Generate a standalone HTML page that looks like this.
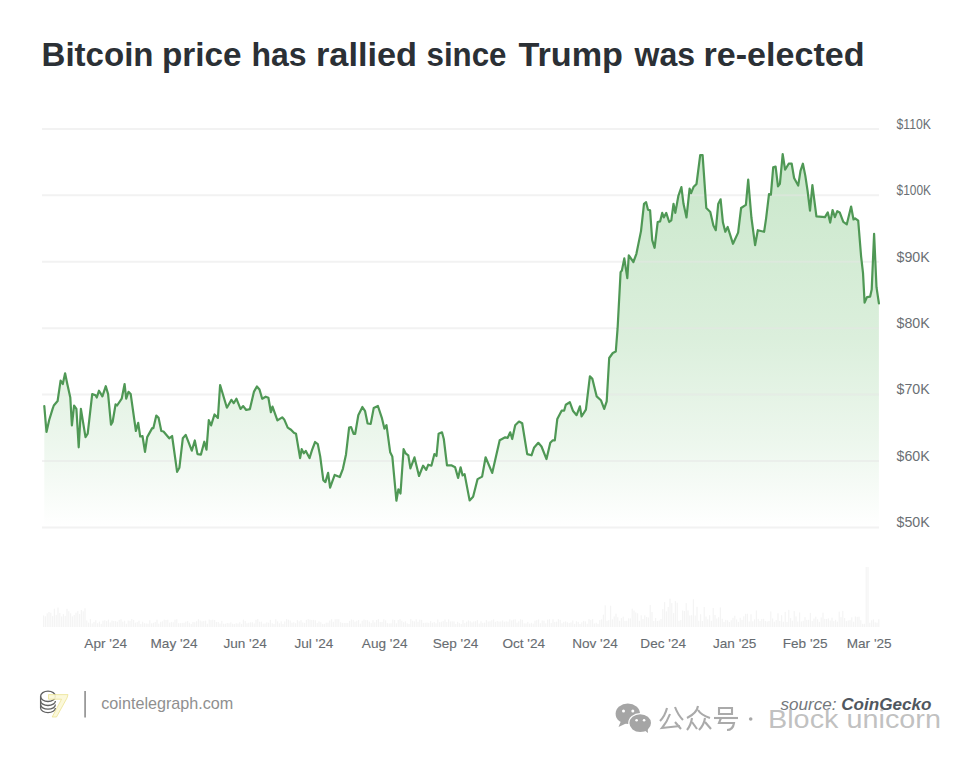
<!DOCTYPE html>
<html><head><meta charset="utf-8"><style>
html,body{margin:0;padding:0;background:#fff;width:972px;height:758px;overflow:hidden}
svg{position:absolute;left:0;top:0}
.t{font-family:"Liberation Sans",sans-serif;font-weight:bold;fill:#2b3035}
.yl{font-family:"Liberation Sans",sans-serif;font-size:14px;fill:#6a6f74}
.xl{font-family:"Liberation Sans",sans-serif;font-size:13.6px;fill:#676c71;stroke:#676c71;stroke-width:0.12px}
.ft{font-family:"Liberation Sans",sans-serif}
</style></head><body>
<svg width="972" height="758" viewBox="0 0 972 758">
<defs>
<linearGradient id="g" x1="0" y1="150" x2="0" y2="527" gradientUnits="userSpaceOnUse">
<stop offset="0" stop-color="#4caf50" stop-opacity="0.30"/>
<stop offset="0.5" stop-color="#4caf50" stop-opacity="0.20"/>
<stop offset="0.78" stop-color="#4caf50" stop-opacity="0.10"/>
<stop offset="1" stop-color="#4caf50" stop-opacity="0.0"/>
</linearGradient>
<clipPath id="yc"><rect x="880" y="100" width="51.5" height="440"/></clipPath>
</defs>
<text x="41.5" y="65.6" class="t" font-size="33" textLength="112.06" lengthAdjust="spacingAndGlyphs">Bitcoin</text><text x="162.0" y="65.6" class="t" font-size="33" textLength="79.57" lengthAdjust="spacingAndGlyphs">price</text><text x="251.5" y="65.6" class="t" font-size="33" textLength="55.09" lengthAdjust="spacingAndGlyphs">has</text><text x="316.0" y="65.6" class="t" font-size="33" textLength="101.07" lengthAdjust="spacingAndGlyphs">rallied</text><text x="426.5" y="65.6" class="t" font-size="33" textLength="80.03" lengthAdjust="spacingAndGlyphs">since</text><text x="518.5" y="65.6" class="t" font-size="33" textLength="104.5" lengthAdjust="spacingAndGlyphs">Trump</text><text x="634.5" y="65.6" class="t" font-size="33" textLength="60.51" lengthAdjust="spacingAndGlyphs">was</text><text x="703.5" y="65.6" class="t" font-size="33" textLength="161.04" lengthAdjust="spacingAndGlyphs">re-elected</text>
<path d="M44.3,527 L44.3,406.1 L46.5,432.0 L49.2,420.0 L52.6,408.9 L53.8,405.5 L57.6,401.0 L60.6,380.6 L62.8,384.0 L65.1,373.3 L67.3,384.0 L70.3,397.5 L71.9,425.4 L74.1,405.5 L76.4,408.9 L78.7,447.3 L80.9,408.9 L85.5,437.1 L87.7,433.7 L92.2,394.1 L95.6,395.3 L96.8,397.5 L99.0,390.7 L102.4,396.4 L105.8,386.2 L108.1,394.1 L111.0,424.7 L112.6,422.0 L115.6,404.3 L117.1,405.5 L121.7,398.7 L124.6,384.0 L126.2,398.7 L128.5,391.9 L130.7,394.1 L135.9,431.0 L138.2,422.9 L140.2,436.5 L142.5,436.0 L145.0,451.9 L147.2,437.1 L152.2,428.1 L153.4,428.1 L156.3,415.6 L158.6,417.9 L161.3,431.0 L163.5,431.5 L169.2,438.3 L172.1,436.0 L177.1,471.8 L179.4,467.7 L182.8,438.3 L185.7,434.9 L191.8,450.7 L194.8,440.5 L197.5,454.1 L200.9,454.6 L204.3,441.7 L206.5,449.6 L208.8,420.2 L211.1,425.4 L214.5,414.5 L217.9,417.9 L220.1,385.0 L226.9,407.7 L231.4,399.8 L233.7,403.2 L236.4,398.7 L240.5,408.9 L243.2,406.1 L246.2,410.0 L249.9,409.1 L254.0,391.6 L256.9,386.5 L259.5,389.5 L262.2,398.8 L265.7,396.7 L268.4,397.8 L270.9,412.2 L272.5,406.6 L277.4,420.4 L282.2,417.3 L284.2,419.4 L287.7,427.6 L291.0,429.7 L293.9,432.8 L296.0,433.8 L300.1,458.1 L301.7,449.2 L303.8,453.3 L305.8,450.9 L309.5,458.1 L312.0,450.2 L315.1,442.0 L317.8,444.1 L320.2,456.4 L323.3,480.1 L325.4,482.1 L328.1,472.9 L330.1,487.7 L334.7,474.9 L339.8,477.0 L342.9,468.8 L346.0,454.4 L349.1,427.6 L351.1,427.2 L353.6,433.8 L355.2,433.8 L358.3,415.3 L362.4,407.0 L365.1,411.2 L367.6,423.5 L370.7,423.9 L373.7,408.1 L377.9,406.0 L382.0,418.4 L384.4,428.6 L386.5,425.1 L390.2,452.3 L392.3,456.4 L396.4,500.7 L398.4,489.3 L400.5,493.5 L403.6,449.2 L405.6,453.3 L408.3,455.4 L410.4,468.4 L414.5,457.4 L419.0,476.0 L423.1,465.7 L426.2,469.8 L428.3,464.7 L431.4,465.7 L434.4,454.0 L436.5,456.0 L438.6,433.8 L442.0,432.3 L443.8,439.0 L447.0,465.3 L451.3,465.3 L455.1,467.3 L458.1,477.9 L460.6,467.3 L462.6,475.4 L464.6,474.1 L469.6,500.4 L473.1,496.7 L477.6,479.1 L482.1,476.6 L485.6,457.3 L492.2,472.9 L499.7,440.3 L505.2,437.3 L507.7,437.8 L510.2,432.3 L512.2,439.0 L515.2,425.2 L519.0,421.5 L522.2,423.2 L527.2,454.1 L531.5,455.3 L534.0,447.8 L538.3,442.8 L541.5,446.5 L546.5,459.1 L550.3,442.8 L552.8,440.3 L554.8,440.3 L557.3,419.0 L561.6,410.7 L564.1,410.7 L565.8,404.7 L569.8,402.2 L572.9,410.7 L576.6,415.2 L579.9,406.4 L581.6,416.5 L585.9,409.7 L589.9,376.4 L592.4,378.9 L596.7,396.4 L600.9,400.2 L604.2,408.9 L606.7,401.4 L609.2,358.0 L612.8,353.0 L615.8,351.5 L617.6,328.2 L620.6,272.1 L621.9,270.5 L624.3,258.4 L627.3,278.1 L628.8,255.4 L633.4,262.0 L636.4,253.8 L641.0,231.1 L644.0,203.8 L646.1,202.2 L648.0,209.8 L650.1,210.4 L652.2,240.2 L654.6,247.8 L657.7,222.0 L660.1,221.4 L662.2,212.9 L663.8,217.4 L666.2,212.9 L669.2,222.0 L671.3,220.4 L673.5,203.8 L675.3,212.9 L678.3,196.2 L681.4,187.1 L683.5,203.8 L686.5,217.4 L689.6,188.6 L691.1,193.1 L693.5,187.1 L696.5,184.0 L700.2,155.2 L702.6,155.2 L706.3,208.0 L710.3,212.0 L713.4,225.4 L715.8,230.2 L718.2,204.1 L720.6,199.3 L722.9,222.3 L725.3,231.8 L727.7,227.0 L733.0,243.8 L738.1,232.6 L741.1,208.0 L745.9,204.9 L748.2,179.5 L751.4,217.5 L755.1,245.2 L757.8,230.2 L764.1,231.8 L766.1,218.3 L769.0,194.1 L770.9,194.6 L773.2,167.3 L775.6,166.6 L778.0,186.3 L779.9,183.9 L782.7,154.2 L785.1,169.7 L788.7,163.7 L791.7,163.7 L794.1,178.0 L798.2,185.6 L800.5,170.9 L802.9,163.7 L805.3,175.6 L807.6,191.0 L810.0,210.7 L812.4,185.1 L816.4,216.4 L825.0,217.1 L827.8,212.4 L830.2,222.6 L832.6,210.0 L834.9,217.1 L837.3,211.2 L839.7,212.4 L843.3,221.9 L846.8,224.3 L851.1,206.5 L853.5,219.5 L855.1,218.3 L858.2,220.7 L861.1,256.3 L863.0,272.9 L864.6,302.6 L867.0,297.1 L870.1,296.7 L871.7,289.5 L874.1,233.8 L876.5,287.2 L878.9,303.3 L878.9,527 Z" fill="url(#g)"/>
<line x1="42" y1="128.9" x2="879" y2="128.9" stroke="#e6e6e6" stroke-opacity="0.5" stroke-width="2"/><line x1="42" y1="195.3" x2="879" y2="195.3" stroke="#e6e6e6" stroke-opacity="0.5" stroke-width="2"/><line x1="42" y1="261.7" x2="879" y2="261.7" stroke="#e6e6e6" stroke-opacity="0.5" stroke-width="2"/><line x1="42" y1="328.2" x2="879" y2="328.2" stroke="#e6e6e6" stroke-opacity="0.5" stroke-width="2"/><line x1="42" y1="394.6" x2="879" y2="394.6" stroke="#e6e6e6" stroke-opacity="0.5" stroke-width="2"/><line x1="42" y1="461.0" x2="879" y2="461.0" stroke="#e6e6e6" stroke-opacity="0.5" stroke-width="2"/><line x1="42" y1="527.4" x2="879" y2="527.4" stroke="#e6e6e6" stroke-opacity="0.5" stroke-width="2"/>
<polyline points="44.3,406.1 46.5,432.0 49.2,420.0 52.6,408.9 53.8,405.5 57.6,401.0 60.6,380.6 62.8,384.0 65.1,373.3 67.3,384.0 70.3,397.5 71.9,425.4 74.1,405.5 76.4,408.9 78.7,447.3 80.9,408.9 85.5,437.1 87.7,433.7 92.2,394.1 95.6,395.3 96.8,397.5 99.0,390.7 102.4,396.4 105.8,386.2 108.1,394.1 111.0,424.7 112.6,422.0 115.6,404.3 117.1,405.5 121.7,398.7 124.6,384.0 126.2,398.7 128.5,391.9 130.7,394.1 135.9,431.0 138.2,422.9 140.2,436.5 142.5,436.0 145.0,451.9 147.2,437.1 152.2,428.1 153.4,428.1 156.3,415.6 158.6,417.9 161.3,431.0 163.5,431.5 169.2,438.3 172.1,436.0 177.1,471.8 179.4,467.7 182.8,438.3 185.7,434.9 191.8,450.7 194.8,440.5 197.5,454.1 200.9,454.6 204.3,441.7 206.5,449.6 208.8,420.2 211.1,425.4 214.5,414.5 217.9,417.9 220.1,385.0 226.9,407.7 231.4,399.8 233.7,403.2 236.4,398.7 240.5,408.9 243.2,406.1 246.2,410.0 249.9,409.1 254.0,391.6 256.9,386.5 259.5,389.5 262.2,398.8 265.7,396.7 268.4,397.8 270.9,412.2 272.5,406.6 277.4,420.4 282.2,417.3 284.2,419.4 287.7,427.6 291.0,429.7 293.9,432.8 296.0,433.8 300.1,458.1 301.7,449.2 303.8,453.3 305.8,450.9 309.5,458.1 312.0,450.2 315.1,442.0 317.8,444.1 320.2,456.4 323.3,480.1 325.4,482.1 328.1,472.9 330.1,487.7 334.7,474.9 339.8,477.0 342.9,468.8 346.0,454.4 349.1,427.6 351.1,427.2 353.6,433.8 355.2,433.8 358.3,415.3 362.4,407.0 365.1,411.2 367.6,423.5 370.7,423.9 373.7,408.1 377.9,406.0 382.0,418.4 384.4,428.6 386.5,425.1 390.2,452.3 392.3,456.4 396.4,500.7 398.4,489.3 400.5,493.5 403.6,449.2 405.6,453.3 408.3,455.4 410.4,468.4 414.5,457.4 419.0,476.0 423.1,465.7 426.2,469.8 428.3,464.7 431.4,465.7 434.4,454.0 436.5,456.0 438.6,433.8 442.0,432.3 443.8,439.0 447.0,465.3 451.3,465.3 455.1,467.3 458.1,477.9 460.6,467.3 462.6,475.4 464.6,474.1 469.6,500.4 473.1,496.7 477.6,479.1 482.1,476.6 485.6,457.3 492.2,472.9 499.7,440.3 505.2,437.3 507.7,437.8 510.2,432.3 512.2,439.0 515.2,425.2 519.0,421.5 522.2,423.2 527.2,454.1 531.5,455.3 534.0,447.8 538.3,442.8 541.5,446.5 546.5,459.1 550.3,442.8 552.8,440.3 554.8,440.3 557.3,419.0 561.6,410.7 564.1,410.7 565.8,404.7 569.8,402.2 572.9,410.7 576.6,415.2 579.9,406.4 581.6,416.5 585.9,409.7 589.9,376.4 592.4,378.9 596.7,396.4 600.9,400.2 604.2,408.9 606.7,401.4 609.2,358.0 612.8,353.0 615.8,351.5 617.6,328.2 620.6,272.1 621.9,270.5 624.3,258.4 627.3,278.1 628.8,255.4 633.4,262.0 636.4,253.8 641.0,231.1 644.0,203.8 646.1,202.2 648.0,209.8 650.1,210.4 652.2,240.2 654.6,247.8 657.7,222.0 660.1,221.4 662.2,212.9 663.8,217.4 666.2,212.9 669.2,222.0 671.3,220.4 673.5,203.8 675.3,212.9 678.3,196.2 681.4,187.1 683.5,203.8 686.5,217.4 689.6,188.6 691.1,193.1 693.5,187.1 696.5,184.0 700.2,155.2 702.6,155.2 706.3,208.0 710.3,212.0 713.4,225.4 715.8,230.2 718.2,204.1 720.6,199.3 722.9,222.3 725.3,231.8 727.7,227.0 733.0,243.8 738.1,232.6 741.1,208.0 745.9,204.9 748.2,179.5 751.4,217.5 755.1,245.2 757.8,230.2 764.1,231.8 766.1,218.3 769.0,194.1 770.9,194.6 773.2,167.3 775.6,166.6 778.0,186.3 779.9,183.9 782.7,154.2 785.1,169.7 788.7,163.7 791.7,163.7 794.1,178.0 798.2,185.6 800.5,170.9 802.9,163.7 805.3,175.6 807.6,191.0 810.0,210.7 812.4,185.1 816.4,216.4 825.0,217.1 827.8,212.4 830.2,222.6 832.6,210.0 834.9,217.1 837.3,211.2 839.7,212.4 843.3,221.9 846.8,224.3 851.1,206.5 853.5,219.5 855.1,218.3 858.2,220.7 861.1,256.3 863.0,272.9 864.6,302.6 867.0,297.1 870.1,296.7 871.7,289.5 874.1,233.8 876.5,287.2 878.9,303.3" fill="none" stroke="#4f9855" stroke-width="2.2" stroke-linejoin="round" stroke-linecap="round"/>
<g clip-path="url(#yc)"><text x="896.5" y="128.7" class="yl" textLength="34.5" lengthAdjust="spacingAndGlyphs">$110K</text><text x="896.5" y="195.1" class="yl" textLength="34.5" lengthAdjust="spacingAndGlyphs">$100K</text><text x="896.5" y="261.5" class="yl" textLength="33.2" lengthAdjust="spacingAndGlyphs">$90K</text><text x="896.5" y="328.0" class="yl" textLength="33.2" lengthAdjust="spacingAndGlyphs">$80K</text><text x="896.5" y="394.4" class="yl" textLength="33.2" lengthAdjust="spacingAndGlyphs">$70K</text><text x="896.5" y="460.8" class="yl" textLength="33.2" lengthAdjust="spacingAndGlyphs">$60K</text><text x="896.5" y="527.2" class="yl" textLength="33.2" lengthAdjust="spacingAndGlyphs">$50K</text></g>
<g fill="#f4f4f4"><rect x="43.0" y="615.5" width="1.2" height="11.5"/><rect x="44.8" y="616.3" width="1.2" height="10.7"/><rect x="46.6" y="613.3" width="1.2" height="13.7"/><rect x="48.4" y="611.9" width="1.2" height="15.1"/><rect x="50.2" y="612.7" width="1.2" height="14.3"/><rect x="52.0" y="616.1" width="1.2" height="10.9"/><rect x="53.8" y="608.7" width="1.2" height="18.3"/><rect x="55.6" y="614.8" width="1.2" height="12.2"/><rect x="57.4" y="607.5" width="1.2" height="19.5"/><rect x="59.2" y="613.0" width="1.2" height="14.0"/><rect x="61.0" y="616.5" width="1.2" height="10.5"/><rect x="62.8" y="614.1" width="1.2" height="12.9"/><rect x="64.6" y="615.8" width="1.2" height="11.2"/><rect x="66.4" y="608.8" width="1.2" height="18.2"/><rect x="68.2" y="611.2" width="1.2" height="15.8"/><rect x="70.0" y="613.3" width="1.2" height="13.7"/><rect x="71.8" y="616.4" width="1.2" height="10.6"/><rect x="73.6" y="614.9" width="1.2" height="12.1"/><rect x="75.4" y="612.7" width="1.2" height="14.3"/><rect x="77.2" y="611.1" width="1.2" height="15.9"/><rect x="79.0" y="614.0" width="1.2" height="13.0"/><rect x="80.8" y="610.0" width="1.2" height="17.0"/><rect x="82.6" y="611.3" width="1.2" height="15.7"/><rect x="84.4" y="608.2" width="1.2" height="18.8"/><rect x="86.2" y="620.4" width="1.2" height="6.6"/><rect x="88.0" y="622.6" width="1.2" height="4.4"/><rect x="89.8" y="619.1" width="1.2" height="7.9"/><rect x="91.6" y="623.4" width="1.2" height="3.6"/><rect x="93.4" y="621.9" width="1.2" height="5.1"/><rect x="95.2" y="620.2" width="1.2" height="6.8"/><rect x="97.0" y="623.2" width="1.2" height="3.8"/><rect x="98.8" y="621.6" width="1.2" height="5.4"/><rect x="100.6" y="623.8" width="1.2" height="3.2"/><rect x="102.4" y="620.7" width="1.2" height="6.3"/><rect x="104.2" y="620.2" width="1.2" height="6.8"/><rect x="106.0" y="621.1" width="1.2" height="5.9"/><rect x="107.8" y="619.6" width="1.2" height="7.4"/><rect x="109.6" y="622.4" width="1.2" height="4.6"/><rect x="111.4" y="620.5" width="1.2" height="6.5"/><rect x="113.2" y="621.0" width="1.2" height="6.0"/><rect x="115.0" y="621.1" width="1.2" height="5.9"/><rect x="116.8" y="621.7" width="1.2" height="5.3"/><rect x="118.6" y="619.8" width="1.2" height="7.2"/><rect x="120.4" y="619.3" width="1.2" height="7.7"/><rect x="122.2" y="621.6" width="1.2" height="5.4"/><rect x="124.0" y="620.7" width="1.2" height="6.3"/><rect x="125.8" y="623.7" width="1.2" height="3.3"/><rect x="127.6" y="620.5" width="1.2" height="6.5"/><rect x="129.4" y="620.8" width="1.2" height="6.2"/><rect x="131.2" y="619.0" width="1.2" height="8.0"/><rect x="133.0" y="619.9" width="1.2" height="7.1"/><rect x="134.8" y="622.6" width="1.2" height="4.4"/><rect x="136.6" y="622.1" width="1.2" height="4.9"/><rect x="138.4" y="620.7" width="1.2" height="6.3"/><rect x="140.2" y="623.9" width="1.2" height="3.1"/><rect x="142.0" y="621.7" width="1.2" height="5.3"/><rect x="143.8" y="623.2" width="1.2" height="3.8"/><rect x="145.6" y="623.4" width="1.2" height="3.6"/><rect x="147.4" y="623.7" width="1.2" height="3.3"/><rect x="149.2" y="620.2" width="1.2" height="6.8"/><rect x="151.0" y="623.4" width="1.2" height="3.6"/><rect x="152.8" y="622.8" width="1.2" height="4.2"/><rect x="154.6" y="622.0" width="1.2" height="5.0"/><rect x="156.4" y="619.6" width="1.2" height="7.4"/><rect x="158.2" y="623.6" width="1.2" height="3.4"/><rect x="160.0" y="621.8" width="1.2" height="5.2"/><rect x="161.8" y="621.3" width="1.2" height="5.7"/><rect x="163.6" y="619.6" width="1.2" height="7.4"/><rect x="165.4" y="619.9" width="1.2" height="7.1"/><rect x="167.2" y="619.7" width="1.2" height="7.3"/><rect x="169.0" y="622.6" width="1.2" height="4.4"/><rect x="170.8" y="621.9" width="1.2" height="5.1"/><rect x="172.6" y="622.2" width="1.2" height="4.8"/><rect x="174.4" y="619.6" width="1.2" height="7.4"/><rect x="176.2" y="619.2" width="1.2" height="7.8"/><rect x="178.0" y="623.2" width="1.2" height="3.8"/><rect x="179.8" y="623.1" width="1.2" height="3.9"/><rect x="181.6" y="622.8" width="1.2" height="4.2"/><rect x="183.4" y="622.8" width="1.2" height="4.2"/><rect x="185.2" y="621.6" width="1.2" height="5.4"/><rect x="187.0" y="621.1" width="1.2" height="5.9"/><rect x="188.8" y="622.7" width="1.2" height="4.3"/><rect x="190.6" y="624.0" width="1.2" height="3.0"/><rect x="192.4" y="621.9" width="1.2" height="5.1"/><rect x="194.2" y="622.2" width="1.2" height="4.8"/><rect x="196.0" y="621.2" width="1.2" height="5.8"/><rect x="197.8" y="619.2" width="1.2" height="7.8"/><rect x="199.6" y="620.5" width="1.2" height="6.5"/><rect x="201.4" y="621.4" width="1.2" height="5.6"/><rect x="203.2" y="620.9" width="1.2" height="6.1"/><rect x="205.0" y="620.6" width="1.2" height="6.4"/><rect x="206.8" y="623.7" width="1.2" height="3.3"/><rect x="208.6" y="619.5" width="1.2" height="7.5"/><rect x="210.4" y="620.1" width="1.2" height="6.9"/><rect x="212.2" y="619.6" width="1.2" height="7.4"/><rect x="214.0" y="620.0" width="1.2" height="7.0"/><rect x="215.8" y="622.0" width="1.2" height="5.0"/><rect x="217.6" y="622.0" width="1.2" height="5.0"/><rect x="219.4" y="623.5" width="1.2" height="3.5"/><rect x="221.2" y="620.8" width="1.2" height="6.2"/><rect x="223.0" y="623.7" width="1.2" height="3.3"/><rect x="224.8" y="623.7" width="1.2" height="3.3"/><rect x="226.6" y="623.0" width="1.2" height="4.0"/><rect x="228.4" y="623.2" width="1.2" height="3.8"/><rect x="230.2" y="622.3" width="1.2" height="4.7"/><rect x="232.0" y="623.7" width="1.2" height="3.3"/><rect x="233.8" y="624.0" width="1.2" height="3.0"/><rect x="235.6" y="623.2" width="1.2" height="3.8"/><rect x="237.4" y="623.5" width="1.2" height="3.5"/><rect x="239.2" y="622.2" width="1.2" height="4.8"/><rect x="241.0" y="623.9" width="1.2" height="3.1"/><rect x="242.8" y="619.6" width="1.2" height="7.4"/><rect x="244.6" y="620.9" width="1.2" height="6.1"/><rect x="246.4" y="623.3" width="1.2" height="3.7"/><rect x="248.2" y="622.7" width="1.2" height="4.3"/><rect x="250.0" y="622.3" width="1.2" height="4.7"/><rect x="251.8" y="622.2" width="1.2" height="4.8"/><rect x="253.6" y="623.4" width="1.2" height="3.6"/><rect x="255.4" y="619.8" width="1.2" height="7.2"/><rect x="257.2" y="619.0" width="1.2" height="8.0"/><rect x="259.0" y="621.7" width="1.2" height="5.3"/><rect x="260.8" y="621.6" width="1.2" height="5.4"/><rect x="262.6" y="623.6" width="1.2" height="3.4"/><rect x="264.4" y="623.5" width="1.2" height="3.5"/><rect x="266.2" y="622.3" width="1.2" height="4.7"/><rect x="268.0" y="622.7" width="1.2" height="4.3"/><rect x="269.8" y="619.9" width="1.2" height="7.1"/><rect x="271.6" y="623.2" width="1.2" height="3.8"/><rect x="273.4" y="623.9" width="1.2" height="3.1"/><rect x="275.2" y="619.2" width="1.2" height="7.8"/><rect x="277.0" y="621.4" width="1.2" height="5.6"/><rect x="278.8" y="623.3" width="1.2" height="3.7"/><rect x="280.6" y="621.3" width="1.2" height="5.7"/><rect x="282.4" y="623.9" width="1.2" height="3.1"/><rect x="284.2" y="621.4" width="1.2" height="5.6"/><rect x="286.0" y="619.1" width="1.2" height="7.9"/><rect x="287.8" y="619.7" width="1.2" height="7.3"/><rect x="289.6" y="620.5" width="1.2" height="6.5"/><rect x="291.4" y="622.7" width="1.2" height="4.3"/><rect x="293.2" y="622.2" width="1.2" height="4.8"/><rect x="295.0" y="623.2" width="1.2" height="3.8"/><rect x="296.8" y="620.1" width="1.2" height="6.9"/><rect x="298.6" y="621.3" width="1.2" height="5.7"/><rect x="300.4" y="620.1" width="1.2" height="6.9"/><rect x="302.2" y="622.4" width="1.2" height="4.6"/><rect x="304.0" y="622.9" width="1.2" height="4.1"/><rect x="305.8" y="619.9" width="1.2" height="7.1"/><rect x="307.6" y="619.1" width="1.2" height="7.9"/><rect x="309.4" y="619.7" width="1.2" height="7.3"/><rect x="311.2" y="620.0" width="1.2" height="7.0"/><rect x="313.0" y="619.9" width="1.2" height="7.1"/><rect x="314.8" y="620.3" width="1.2" height="6.7"/><rect x="316.6" y="622.9" width="1.2" height="4.1"/><rect x="318.4" y="621.4" width="1.2" height="5.6"/><rect x="320.2" y="622.2" width="1.2" height="4.8"/><rect x="322.0" y="623.9" width="1.2" height="3.1"/><rect x="323.8" y="623.9" width="1.2" height="3.1"/><rect x="325.6" y="622.6" width="1.2" height="4.4"/><rect x="327.4" y="622.7" width="1.2" height="4.3"/><rect x="329.2" y="620.5" width="1.2" height="6.5"/><rect x="331.0" y="619.2" width="1.2" height="7.8"/><rect x="332.8" y="621.8" width="1.2" height="5.2"/><rect x="334.6" y="619.3" width="1.2" height="7.7"/><rect x="336.4" y="619.1" width="1.2" height="7.9"/><rect x="338.2" y="619.2" width="1.2" height="7.8"/><rect x="340.0" y="622.2" width="1.2" height="4.8"/><rect x="341.8" y="622.9" width="1.2" height="4.1"/><rect x="343.6" y="622.9" width="1.2" height="4.1"/><rect x="345.4" y="623.0" width="1.2" height="4.0"/><rect x="347.2" y="623.0" width="1.2" height="4.0"/><rect x="349.0" y="620.9" width="1.2" height="6.1"/><rect x="350.8" y="619.5" width="1.2" height="7.5"/><rect x="352.6" y="619.8" width="1.2" height="7.2"/><rect x="354.4" y="621.6" width="1.2" height="5.4"/><rect x="356.2" y="620.7" width="1.2" height="6.3"/><rect x="358.0" y="620.0" width="1.2" height="7.0"/><rect x="359.8" y="623.6" width="1.2" height="3.4"/><rect x="361.6" y="620.7" width="1.2" height="6.3"/><rect x="363.4" y="619.5" width="1.2" height="7.5"/><rect x="365.2" y="620.1" width="1.2" height="6.9"/><rect x="367.0" y="620.2" width="1.2" height="6.8"/><rect x="368.8" y="621.6" width="1.2" height="5.4"/><rect x="370.6" y="623.1" width="1.2" height="3.9"/><rect x="372.4" y="620.1" width="1.2" height="6.9"/><rect x="374.2" y="622.3" width="1.2" height="4.7"/><rect x="376.0" y="620.0" width="1.2" height="7.0"/><rect x="377.8" y="619.1" width="1.2" height="7.9"/><rect x="379.6" y="622.0" width="1.2" height="5.0"/><rect x="381.4" y="622.0" width="1.2" height="5.0"/><rect x="383.2" y="619.3" width="1.2" height="7.7"/><rect x="385.0" y="620.4" width="1.2" height="6.6"/><rect x="386.8" y="623.1" width="1.2" height="3.9"/><rect x="388.6" y="623.4" width="1.2" height="3.6"/><rect x="390.4" y="623.2" width="1.2" height="3.8"/><rect x="392.2" y="619.5" width="1.2" height="7.5"/><rect x="394.0" y="620.0" width="1.2" height="7.0"/><rect x="395.8" y="623.3" width="1.2" height="3.7"/><rect x="397.6" y="619.9" width="1.2" height="7.1"/><rect x="399.4" y="619.1" width="1.2" height="7.9"/><rect x="401.2" y="620.7" width="1.2" height="6.3"/><rect x="403.0" y="622.2" width="1.2" height="4.8"/><rect x="404.8" y="621.3" width="1.2" height="5.7"/><rect x="406.6" y="623.3" width="1.2" height="3.7"/><rect x="408.4" y="623.9" width="1.2" height="3.1"/><rect x="410.2" y="619.1" width="1.2" height="7.9"/><rect x="412.0" y="620.8" width="1.2" height="6.2"/><rect x="413.8" y="621.4" width="1.2" height="5.6"/><rect x="415.6" y="619.3" width="1.2" height="7.7"/><rect x="417.4" y="621.8" width="1.2" height="5.2"/><rect x="419.2" y="619.6" width="1.2" height="7.4"/><rect x="421.0" y="619.9" width="1.2" height="7.1"/><rect x="422.8" y="622.9" width="1.2" height="4.1"/><rect x="424.6" y="622.7" width="1.2" height="4.3"/><rect x="426.4" y="622.5" width="1.2" height="4.5"/><rect x="428.2" y="622.8" width="1.2" height="4.2"/><rect x="430.0" y="621.1" width="1.2" height="5.9"/><rect x="431.8" y="622.7" width="1.2" height="4.3"/><rect x="433.6" y="621.9" width="1.2" height="5.1"/><rect x="435.4" y="623.3" width="1.2" height="3.7"/><rect x="437.2" y="619.4" width="1.2" height="7.6"/><rect x="439.0" y="622.2" width="1.2" height="4.8"/><rect x="440.8" y="621.7" width="1.2" height="5.3"/><rect x="442.6" y="621.1" width="1.2" height="5.9"/><rect x="444.4" y="619.5" width="1.2" height="7.5"/><rect x="446.2" y="621.9" width="1.2" height="5.1"/><rect x="448.0" y="619.4" width="1.2" height="7.6"/><rect x="449.8" y="621.5" width="1.2" height="5.5"/><rect x="451.6" y="621.3" width="1.2" height="5.7"/><rect x="453.4" y="621.4" width="1.2" height="5.6"/><rect x="455.2" y="623.9" width="1.2" height="3.1"/><rect x="457.0" y="621.8" width="1.2" height="5.2"/><rect x="458.8" y="623.1" width="1.2" height="3.9"/><rect x="460.6" y="624.0" width="1.2" height="3.0"/><rect x="462.4" y="620.0" width="1.2" height="7.0"/><rect x="464.2" y="623.1" width="1.2" height="3.9"/><rect x="466.0" y="621.6" width="1.2" height="5.4"/><rect x="467.8" y="620.4" width="1.2" height="6.6"/><rect x="469.6" y="621.2" width="1.2" height="5.8"/><rect x="471.4" y="622.4" width="1.2" height="4.6"/><rect x="473.2" y="621.4" width="1.2" height="5.6"/><rect x="475.0" y="621.2" width="1.2" height="5.8"/><rect x="476.8" y="620.1" width="1.2" height="6.9"/><rect x="478.6" y="623.5" width="1.2" height="3.5"/><rect x="480.4" y="621.2" width="1.2" height="5.8"/><rect x="482.2" y="622.8" width="1.2" height="4.2"/><rect x="484.0" y="622.6" width="1.2" height="4.4"/><rect x="485.8" y="620.1" width="1.2" height="6.9"/><rect x="487.6" y="621.5" width="1.2" height="5.5"/><rect x="489.4" y="621.2" width="1.2" height="5.8"/><rect x="491.2" y="620.2" width="1.2" height="6.8"/><rect x="493.0" y="619.4" width="1.2" height="7.6"/><rect x="494.8" y="621.8" width="1.2" height="5.2"/><rect x="496.6" y="620.9" width="1.2" height="6.1"/><rect x="498.4" y="621.5" width="1.2" height="5.5"/><rect x="500.2" y="621.4" width="1.2" height="5.6"/><rect x="502.0" y="620.5" width="1.2" height="6.5"/><rect x="503.8" y="621.7" width="1.2" height="5.3"/><rect x="505.6" y="621.3" width="1.2" height="5.7"/><rect x="507.4" y="621.6" width="1.2" height="5.4"/><rect x="509.2" y="619.3" width="1.2" height="7.7"/><rect x="511.0" y="620.5" width="1.2" height="6.5"/><rect x="512.8" y="619.6" width="1.2" height="7.4"/><rect x="514.6" y="619.3" width="1.2" height="7.7"/><rect x="516.4" y="622.7" width="1.2" height="4.3"/><rect x="518.2" y="621.2" width="1.2" height="5.8"/><rect x="520.0" y="619.3" width="1.2" height="7.7"/><rect x="521.8" y="619.8" width="1.2" height="7.2"/><rect x="523.6" y="623.3" width="1.2" height="3.7"/><rect x="525.4" y="623.4" width="1.2" height="3.6"/><rect x="527.2" y="621.8" width="1.2" height="5.2"/><rect x="529.0" y="623.6" width="1.2" height="3.4"/><rect x="530.8" y="622.8" width="1.2" height="4.2"/><rect x="532.6" y="623.6" width="1.2" height="3.4"/><rect x="534.4" y="620.7" width="1.2" height="6.3"/><rect x="536.2" y="620.1" width="1.2" height="6.9"/><rect x="538.0" y="619.5" width="1.2" height="7.5"/><rect x="539.8" y="623.2" width="1.2" height="3.8"/><rect x="541.6" y="620.4" width="1.2" height="6.6"/><rect x="543.4" y="620.7" width="1.2" height="6.3"/><rect x="545.2" y="623.3" width="1.2" height="3.7"/><rect x="547.0" y="619.6" width="1.2" height="7.4"/><rect x="548.8" y="619.2" width="1.2" height="7.8"/><rect x="550.6" y="622.9" width="1.2" height="4.1"/><rect x="552.4" y="619.2" width="1.2" height="7.8"/><rect x="554.2" y="622.0" width="1.2" height="5.0"/><rect x="556.0" y="621.6" width="1.2" height="5.4"/><rect x="557.8" y="619.1" width="1.2" height="7.9"/><rect x="559.6" y="619.8" width="1.2" height="7.2"/><rect x="561.4" y="623.2" width="1.2" height="3.8"/><rect x="563.2" y="621.8" width="1.2" height="5.2"/><rect x="565.0" y="621.4" width="1.2" height="5.6"/><rect x="566.8" y="622.3" width="1.2" height="4.7"/><rect x="568.6" y="623.0" width="1.2" height="4.0"/><rect x="570.4" y="622.4" width="1.2" height="4.6"/><rect x="572.2" y="620.4" width="1.2" height="6.6"/><rect x="574.0" y="623.9" width="1.2" height="3.1"/><rect x="575.8" y="621.2" width="1.2" height="5.8"/><rect x="577.6" y="621.8" width="1.2" height="5.2"/><rect x="579.4" y="623.9" width="1.2" height="3.1"/><rect x="581.2" y="622.3" width="1.2" height="4.7"/><rect x="583.0" y="620.9" width="1.2" height="6.1"/><rect x="584.8" y="621.4" width="1.2" height="5.6"/><rect x="586.6" y="623.7" width="1.2" height="3.3"/><rect x="588.4" y="619.1" width="1.2" height="7.9"/><rect x="590.2" y="620.1" width="1.2" height="6.9"/><rect x="592.0" y="619.1" width="1.2" height="7.9"/><rect x="593.8" y="623.5" width="1.2" height="3.5"/><rect x="595.6" y="622.7" width="1.2" height="4.3"/><rect x="597.4" y="623.8" width="1.2" height="3.2"/><rect x="599.2" y="620.1" width="1.2" height="6.9"/><rect x="601.0" y="619.4" width="1.2" height="7.6"/><rect x="602.8" y="614.6" width="1.2" height="12.4"/><rect x="604.6" y="605.3" width="1.2" height="21.7"/><rect x="606.4" y="620.8" width="1.2" height="6.2"/><rect x="608.2" y="620.1" width="1.2" height="6.9"/><rect x="610.0" y="605.7" width="1.2" height="21.3"/><rect x="611.8" y="619.3" width="1.2" height="7.7"/><rect x="613.6" y="616.4" width="1.2" height="10.6"/><rect x="615.4" y="613.6" width="1.2" height="13.4"/><rect x="617.2" y="617.2" width="1.2" height="9.8"/><rect x="619.0" y="620.8" width="1.2" height="6.2"/><rect x="620.8" y="618.1" width="1.2" height="8.9"/><rect x="622.6" y="616.6" width="1.2" height="10.4"/><rect x="624.4" y="620.8" width="1.2" height="6.2"/><rect x="626.2" y="620.7" width="1.2" height="6.3"/><rect x="628.0" y="618.3" width="1.2" height="8.7"/><rect x="629.8" y="618.4" width="1.2" height="8.6"/><rect x="631.6" y="608.6" width="1.2" height="18.4"/><rect x="633.4" y="610.5" width="1.2" height="16.5"/><rect x="635.2" y="612.4" width="1.2" height="14.6"/><rect x="637.0" y="613.3" width="1.2" height="13.7"/><rect x="638.8" y="620.8" width="1.2" height="6.2"/><rect x="640.6" y="615.3" width="1.2" height="11.7"/><rect x="642.4" y="618.9" width="1.2" height="8.1"/><rect x="644.2" y="615.3" width="1.2" height="11.7"/><rect x="646.0" y="617.0" width="1.2" height="10.0"/><rect x="647.8" y="617.5" width="1.2" height="9.5"/><rect x="649.6" y="605.0" width="1.2" height="22.0"/><rect x="651.4" y="612.0" width="1.2" height="15.0"/><rect x="653.2" y="621.0" width="1.2" height="6.0"/><rect x="655.0" y="618.0" width="1.2" height="9.0"/><rect x="656.8" y="621.0" width="1.2" height="6.0"/><rect x="658.6" y="620.5" width="1.2" height="6.5"/><rect x="660.4" y="618.9" width="1.2" height="8.1"/><rect x="662.2" y="609.1" width="1.2" height="17.9"/><rect x="664.0" y="602.1" width="1.2" height="24.9"/><rect x="665.8" y="611.4" width="1.2" height="15.6"/><rect x="667.6" y="607.0" width="1.2" height="20.0"/><rect x="669.4" y="598.6" width="1.2" height="28.4"/><rect x="671.2" y="603.1" width="1.2" height="23.9"/><rect x="673.0" y="613.1" width="1.2" height="13.9"/><rect x="674.8" y="601.1" width="1.2" height="25.9"/><rect x="676.6" y="602.7" width="1.2" height="24.3"/><rect x="678.4" y="620.8" width="1.2" height="6.2"/><rect x="680.2" y="619.9" width="1.2" height="7.1"/><rect x="682.0" y="610.5" width="1.2" height="16.5"/><rect x="683.8" y="611.0" width="1.2" height="16.0"/><rect x="685.6" y="603.1" width="1.2" height="23.9"/><rect x="687.4" y="610.4" width="1.2" height="16.6"/><rect x="689.2" y="615.4" width="1.2" height="11.6"/><rect x="691.0" y="615.2" width="1.2" height="11.8"/><rect x="692.8" y="599.3" width="1.2" height="27.7"/><rect x="694.6" y="615.5" width="1.2" height="11.5"/><rect x="696.4" y="606.8" width="1.2" height="20.2"/><rect x="698.2" y="620.7" width="1.2" height="6.3"/><rect x="700.0" y="614.2" width="1.2" height="12.8"/><rect x="701.8" y="621.0" width="1.2" height="6.0"/><rect x="703.6" y="607.0" width="1.2" height="20.0"/><rect x="705.4" y="616.5" width="1.2" height="10.5"/><rect x="707.2" y="619.3" width="1.2" height="7.7"/><rect x="709.0" y="615.2" width="1.2" height="11.8"/><rect x="710.8" y="620.8" width="1.2" height="6.2"/><rect x="712.6" y="607.9" width="1.2" height="19.1"/><rect x="714.4" y="615.0" width="1.2" height="12.0"/><rect x="716.2" y="618.5" width="1.2" height="8.5"/><rect x="718.0" y="617.2" width="1.2" height="9.8"/><rect x="719.8" y="607.5" width="1.2" height="19.5"/><rect x="721.6" y="618.7" width="1.2" height="8.3"/><rect x="723.4" y="622.0" width="1.2" height="5.0"/><rect x="725.2" y="619.8" width="1.2" height="7.2"/><rect x="727.0" y="620.3" width="1.2" height="6.7"/><rect x="728.8" y="622.0" width="1.2" height="5.0"/><rect x="730.6" y="620.2" width="1.2" height="6.8"/><rect x="732.4" y="617.8" width="1.2" height="9.2"/><rect x="734.2" y="615.7" width="1.2" height="11.3"/><rect x="736.0" y="619.5" width="1.2" height="7.5"/><rect x="737.8" y="621.9" width="1.2" height="5.1"/><rect x="739.6" y="617.7" width="1.2" height="9.3"/><rect x="741.4" y="619.8" width="1.2" height="7.2"/><rect x="743.2" y="616.3" width="1.2" height="10.7"/><rect x="745.0" y="613.8" width="1.2" height="13.2"/><rect x="746.8" y="613.7" width="1.2" height="13.3"/><rect x="748.6" y="621.4" width="1.2" height="5.6"/><rect x="750.4" y="614.2" width="1.2" height="12.8"/><rect x="752.2" y="621.3" width="1.2" height="5.7"/><rect x="754.0" y="619.4" width="1.2" height="7.6"/><rect x="755.8" y="610.5" width="1.2" height="16.5"/><rect x="757.6" y="618.8" width="1.2" height="8.2"/><rect x="759.4" y="620.9" width="1.2" height="6.1"/><rect x="761.2" y="619.0" width="1.2" height="8.0"/><rect x="763.0" y="618.8" width="1.2" height="8.2"/><rect x="764.8" y="621.0" width="1.2" height="6.0"/><rect x="766.6" y="621.5" width="1.2" height="5.5"/><rect x="768.4" y="621.0" width="1.2" height="6.0"/><rect x="770.2" y="611.4" width="1.2" height="15.6"/><rect x="772.0" y="618.5" width="1.2" height="8.5"/><rect x="773.8" y="621.7" width="1.2" height="5.3"/><rect x="775.6" y="620.1" width="1.2" height="6.9"/><rect x="777.4" y="613.3" width="1.2" height="13.7"/><rect x="779.2" y="620.9" width="1.2" height="6.1"/><rect x="781.0" y="615.2" width="1.2" height="11.8"/><rect x="782.8" y="621.7" width="1.2" height="5.3"/><rect x="784.6" y="611.8" width="1.2" height="15.2"/><rect x="786.4" y="622.0" width="1.2" height="5.0"/><rect x="788.2" y="609.8" width="1.2" height="17.2"/><rect x="790.0" y="618.1" width="1.2" height="8.9"/><rect x="791.8" y="620.7" width="1.2" height="6.3"/><rect x="793.6" y="611.1" width="1.2" height="15.9"/><rect x="795.4" y="616.4" width="1.2" height="10.6"/><rect x="797.2" y="621.5" width="1.2" height="5.5"/><rect x="799.0" y="612.5" width="1.2" height="14.5"/><rect x="800.8" y="621.5" width="1.2" height="5.5"/><rect x="802.6" y="620.7" width="1.2" height="6.3"/><rect x="804.4" y="617.1" width="1.2" height="9.9"/><rect x="806.2" y="619.8" width="1.2" height="7.2"/><rect x="808.0" y="619.8" width="1.2" height="7.2"/><rect x="809.8" y="612.9" width="1.2" height="14.1"/><rect x="811.6" y="621.1" width="1.2" height="5.9"/><rect x="813.4" y="618.5" width="1.2" height="8.5"/><rect x="815.2" y="616.6" width="1.2" height="10.4"/><rect x="817.0" y="619.3" width="1.2" height="7.7"/><rect x="818.8" y="621.9" width="1.2" height="5.1"/><rect x="820.6" y="617.4" width="1.2" height="9.6"/><rect x="822.4" y="612.6" width="1.2" height="14.4"/><rect x="824.2" y="618.8" width="1.2" height="8.2"/><rect x="826.0" y="619.0" width="1.2" height="8.0"/><rect x="827.8" y="618.4" width="1.2" height="8.6"/><rect x="829.6" y="620.5" width="1.2" height="6.5"/><rect x="831.4" y="617.6" width="1.2" height="9.4"/><rect x="833.2" y="621.1" width="1.2" height="5.9"/><rect x="835.0" y="619.8" width="1.2" height="7.2"/><rect x="836.8" y="621.6" width="1.2" height="5.4"/><rect x="838.6" y="611.6" width="1.2" height="15.4"/><rect x="840.4" y="617.1" width="1.2" height="9.9"/><rect x="842.2" y="610.8" width="1.2" height="16.2"/><rect x="844.0" y="618.0" width="1.2" height="9.0"/><rect x="845.8" y="621.1" width="1.2" height="5.9"/><rect x="847.6" y="620.4" width="1.2" height="6.6"/><rect x="849.4" y="620.1" width="1.2" height="6.9"/><rect x="851.2" y="617.3" width="1.2" height="9.7"/><rect x="853.0" y="621.7" width="1.2" height="5.3"/><rect x="854.8" y="616.5" width="1.2" height="10.5"/><rect x="856.6" y="616.8" width="1.2" height="10.2"/><rect x="858.4" y="616.7" width="1.2" height="10.3"/><rect x="860.2" y="620.2" width="1.2" height="6.8"/><rect x="862.0" y="623.8" width="1.2" height="3.2"/><rect x="863.8" y="623.8" width="1.2" height="3.2"/><rect x="865.6" y="567.0" width="1.2" height="60.0"/><rect x="867.4" y="567.0" width="1.2" height="60.0"/><rect x="869.2" y="622.7" width="1.2" height="4.3"/><rect x="871.0" y="620.3" width="1.2" height="6.7"/><rect x="872.8" y="619.5" width="1.2" height="7.5"/><rect x="874.6" y="622.3" width="1.2" height="4.7"/><rect x="876.4" y="622.6" width="1.2" height="4.4"/><rect x="878.2" y="619.2" width="1.2" height="7.8"/></g>
<text x="105.7" y="648.4" class="xl" text-anchor="middle">Apr '24</text><text x="174.1" y="648.4" class="xl" text-anchor="middle">May '24</text><text x="245.1" y="648.4" class="xl" text-anchor="middle">Jun '24</text><text x="313.9" y="648.4" class="xl" text-anchor="middle">Jul '24</text><text x="384.7" y="648.4" class="xl" text-anchor="middle">Aug '24</text><text x="455.5" y="648.4" class="xl" text-anchor="middle">Sep '24</text><text x="523.7" y="648.4" class="xl" text-anchor="middle">Oct '24</text><text x="595.0" y="648.4" class="xl" text-anchor="middle">Nov '24</text><text x="663.2" y="648.4" class="xl" text-anchor="middle">Dec '24</text><text x="734.7" y="648.4" class="xl" text-anchor="middle">Jan '25</text><text x="805.2" y="648.4" class="xl" text-anchor="middle">Feb '25</text><text x="869.2" y="648.4" class="xl" text-anchor="middle">Mar '25</text>
<!-- logo -->
<g fill="none" stroke="#626262" stroke-width="1.3">
<ellipse cx="48" cy="696.3" rx="7.4" ry="5.2"/>
<path d="M40.6,696.3 V708 A7.4,4.6 0 0 0 55.4,708"/>
<path d="M40.6,700.9 A7.4,4.6 0 0 0 55.4,700.9"/>
<path d="M40.6,704.6 A7.4,4.6 0 0 0 55.4,704.6"/>
</g>
<path d="M48.5,694.6 L68,694.6 L67,698 L56.5,717 L52.2,717 L61.5,699.2 L48.5,699.2 Z" fill="#fbf7d6" fill-opacity="0.9" stroke="#eadf86" stroke-width="0.7"/>
<rect x="84.2" y="691" width="1.8" height="26.5" fill="#9a9a9a"/>
<text x="101.3" y="709" class="ft" font-size="16.2" fill="#8f8f8f" textLength="132" lengthAdjust="spacingAndGlyphs">cointelegraph.com</text>
<text x="780.5" y="710" class="ft" font-size="16" font-style="italic" fill="#74787c" textLength="151" lengthAdjust="spacingAndGlyphs">source: <tspan font-weight="bold" fill="#50575f">CoinGecko</tspan></text>
<!-- watermark -->
<g fill="#a5a5a5">
<ellipse cx="627.8" cy="713.8" rx="12.2" ry="10.2"/>
<path d="M621,721 L618.5,727 L627,723 z"/>
</g>
<ellipse cx="640.2" cy="723.1" rx="12" ry="10" fill="#fff"/>
<g fill="#a5a5a5">
<ellipse cx="640.2" cy="723.1" rx="10.8" ry="8.9"/>
<path d="M644,730 L648,733 L647.5,727 z"/>
</g>
<g fill="#fff"><circle cx="623.5" cy="711" r="1.5"/><circle cx="632.8" cy="711" r="1.5"/><circle cx="636.6" cy="720.2" r="1.3"/><circle cx="644.1" cy="720.2" r="1.3"/></g>
<g stroke="#aaaaaa" stroke-width="2.1" fill="none" stroke-linecap="butt">
<!-- 公 -->
<path d="M667,708 Q665,716 660,721"/>
<path d="M675,707 Q678,715 683,720"/>
<path d="M670,714 Q667,722 662,728 L680,726"/>
<path d="M675,722 L681,729"/>
<!-- 众 -->
<path d="M698,706 Q697,713 687,718"/>
<path d="M698,710 Q701,715 710,718"/>
<path d="M692,718 Q691,725 687,730"/>
<path d="M692,722 L697,729"/>
<path d="M705,718 Q704,725 699,730"/>
<path d="M705,722 L711,729"/>
<!-- 号 -->
<path d="M719,708 h13 v6 h-13 z"/>
<path d="M714,718 h24"/>
<path d="M721,718 L719,723 h15 Q733,730 727,730"/>
</g>
<circle cx="750.7" cy="719" r="1.8" fill="#a8a8a8"/>
<text x="768" y="727.6" class="ft" font-size="26" fill="#b3b3b3" fill-opacity="0.82" textLength="173" lengthAdjust="spacingAndGlyphs">Block unicorn</text>
</svg>
</body></html>
